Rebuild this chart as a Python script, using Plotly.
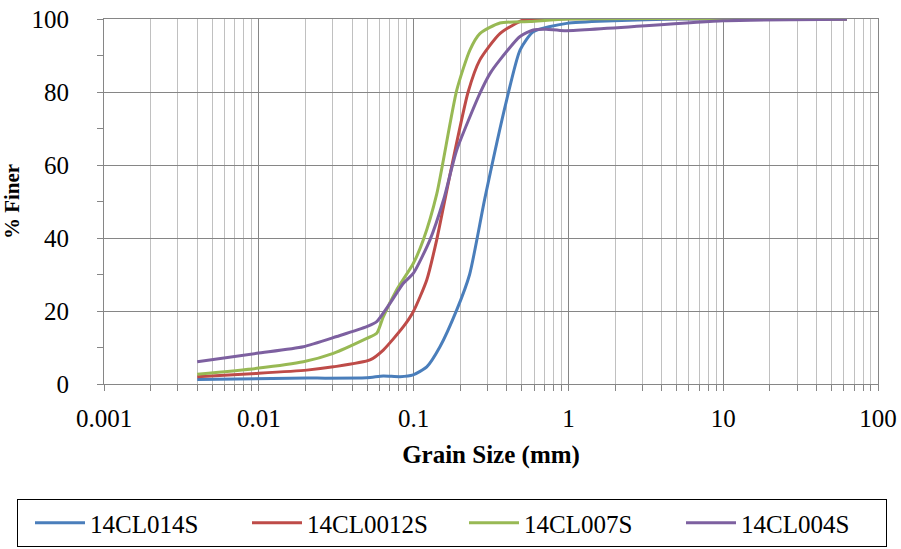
import plotly.graph_objects as go

# Particle size distribution: grain size (mm) vs. percent finer
blue_x = [0.004, 0.0159, 0.0498, 0.0637, 0.0817, 0.0993, 0.1216, 0.148, 0.19, 0.23, 0.289, 0.399, 0.487, 0.593, 0.975, 1.95, 5.0, 63]
blue_y = [1.2, 1.6, 1.7, 2.2, 2.0, 2.5, 4.7, 10.2, 20.3, 30.0, 51.0, 77.8, 91.5, 96.5, 98.8, 99.5, 100, 100]

red_x = [0.004, 0.0097, 0.0204, 0.0303, 0.0523, 0.0637, 0.0859, 0.0995, 0.1216, 0.141, 0.156, 0.177, 0.225, 0.268, 0.361, 0.509, 0.6, 63]
red_y = [2.0, 2.9, 3.8, 4.7, 6.6, 9.3, 15.7, 19.8, 28.5, 39.5, 48.6, 60.0, 80.0, 88.8, 96.0, 99.7, 100, 100]

green_x = [0.004, 0.0097, 0.0194, 0.0303, 0.0498, 0.0578, 0.0637, 0.0778, 0.0995, 0.1156, 0.141, 0.19, 0.231, 0.268, 0.361, 0.567, 1.0, 63]
green_y = [2.7, 4.3, 6.1, 8.4, 12.5, 13.9, 18.4, 25.8, 33.0, 39.5, 52.0, 80.5, 91.5, 96.0, 98.9, 99.3, 100, 100]

purple_x = [0.004, 0.0097, 0.0194, 0.0319, 0.0498, 0.0578, 0.0704, 0.0859, 0.0995, 0.1276, 0.156, 0.19, 0.268, 0.312, 0.361, 0.487, 0.593, 0.718, 0.944, 10.0, 63]
purple_y = [6.1, 8.4, 10.2, 13.0, 15.7, 17.1, 22.1, 27.6, 30.3, 39.5, 50.4, 64.1, 79.6, 85.1, 88.8, 95.2, 97.0, 97.2, 96.8, 99.5, 99.9]

series_names = ["14CL014S", "14CL0012S", "14CL007S", "14CL004S"]
series_colors = ["#4A7EBB", "#BE4B48", "#98B954", "#7D60A0"]

x_tick_vals = [0.001, 0.01, 0.1, 1, 10, 100]
x_tick_text = ["0.001", "0.01", "0.1", "1", "10", "100"]
y_tick_vals = [0, 20, 40, 60, 80, 100]

FONT = "Liberation Serif, Times New Roman, serif"
AXIS_GREY = "#868686"

fig = go.Figure()
for xs, ys, name, color in zip(
    [blue_x, red_x, green_x, purple_x],
    [blue_y, red_y, green_y, purple_y],
    series_names, series_colors,
):
    fig.add_trace(go.Scatter(
        x=xs, y=ys, name=name, mode="lines",
        line=dict(color=color, width=3, shape="spline", smoothing=0.6),
    ))

fig.update_layout(
    width=901, height=549,
    margin=dict(l=104, r=23, t=19, b=165, autoexpand=False),
    paper_bgcolor="white", plot_bgcolor="white",
    font=dict(family=FONT, size=25, color="black"),
    showlegend=True,
    legend=dict(
        orientation="h",
        xref="paper", yref="paper",
        x=-0.1124, xanchor="left", y=-0.4466, yanchor="bottom",
        bordercolor="black", borderwidth=1,
        entrywidth=140, entrywidthmode="pixels",
        indentation=12,
        font=dict(family=FONT, size=25),
        itemwidth=50,
    ),
)

fig.update_xaxes(
    type="log", range=[-3, 2],
    tickvals=x_tick_vals, ticktext=x_tick_text,
    showgrid=True, gridcolor=AXIS_GREY, gridwidth=1,
    showline=True, linecolor=AXIS_GREY, linewidth=1, mirror=True,
    ticks="outside", ticklen=6, tickcolor=AXIS_GREY,
    ticklabelstandoff=6,
    minor=dict(dtick="D1", showgrid=True, gridcolor="#c0c0c0", gridwidth=1,
               ticks="outside", ticklen=6, tickcolor=AXIS_GREY),
    title=dict(text="<b>Grain Size (mm)</b>", font=dict(family=FONT, size=25), standoff=14),
    tickfont=dict(family=FONT, size=25),
    zeroline=False, automargin=False,
)

fig.update_yaxes(
    range=[0, 100],
    tickvals=y_tick_vals,
    showgrid=True, gridcolor=AXIS_GREY, gridwidth=1,
    showline=True, linecolor=AXIS_GREY, linewidth=1, mirror=True,
    ticks="outside", ticklen=6, tickcolor=AXIS_GREY,
    ticklabelstandoff=23,
    minor=dict(dtick=10, showgrid=False, ticks="outside", ticklen=6, tickcolor=AXIS_GREY),
    title=dict(text="<b>% Finer</b>", font=dict(family=FONT, size=21), standoff=12),
    tickfont=dict(family=FONT, size=25),
    zeroline=False, automargin=False,
)

fig.write_html("out.html")
